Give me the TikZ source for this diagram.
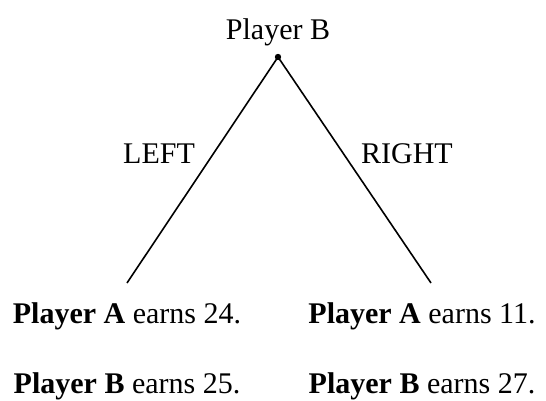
\documentclass[tikz,border=0pt]{standalone}
\usepackage{fontspec}
\setmainfont{Liberation Serif}
\tikzset{lbl/.style={anchor=base,inner sep=0pt,font=\fontsize{30}{34}\selectfont}}
\begin{document}
\begin{tikzpicture}[x=1pt,y=-1pt]
                \useasboundingbox (0,0) rectangle (546,401);
                %% decision node
                \coordinate (root) at (278,57);
                \coordinate (leftend) at (127,283);
                \coordinate (rightend) at (431,283);
                \node[lbl] (mover) at (278,40) {Player B};
                \fill (root) circle (3.2pt);
                %% branches
                \draw[line width=1.6pt] (root) -- (leftend);
                \draw[line width=1.6pt] (root) -- (rightend);
                \node[lbl] (leftlbl) at (159,163) {LEFT};
                \node[lbl] (rightlbl) at (407,163) {RIGHT};
                %% payoffs
                \node[lbl] (leftA) at (127,323) {\textbf{Player A} earns 24.};
                \node[lbl] (leftB) at (127,393) {\textbf{Player B} earns 25.};
                \node[lbl] (rightA) at (422,323) {\textbf{Player A} earns 11.};
                \node[lbl] (rightB) at (422,393) {\textbf{Player B} earns 27.};
            \end{tikzpicture}
\end{document}
